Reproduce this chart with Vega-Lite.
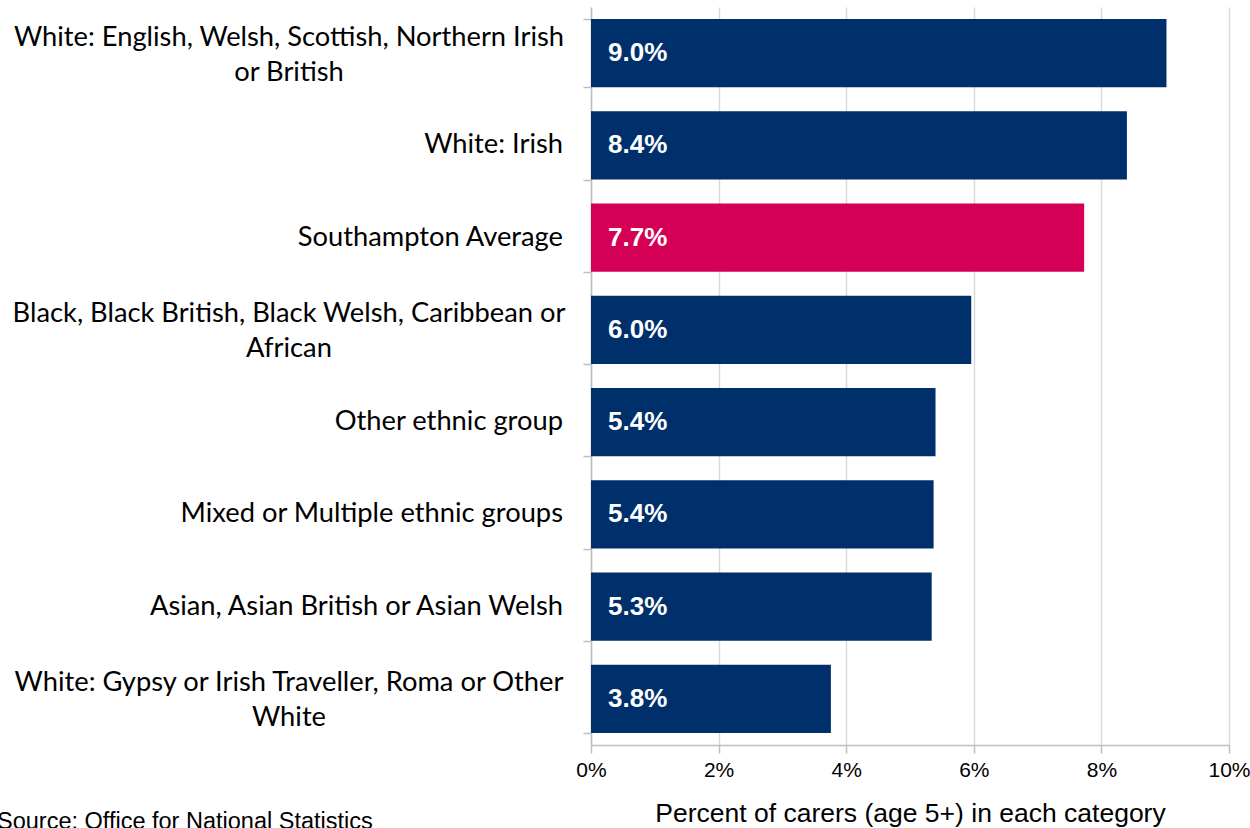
{
  "$schema": "https://vega.github.io/schema/vega-lite/v6.json",
  "autosize": {"type": "none"},
  "width": 638,
  "height": 738,
  "padding": {"left": 591, "top": 7, "right": 21, "bottom": 83},
  "background": "white",
  "config": {"view": {"stroke": null}},
  "title": {
    "text": "Source: Office for National Statistics",
    "orient": "bottom",
    "anchor": "start",
    "frame": "group",
    "dx": -594,
    "offset": -17,
    "baseline": "top",
    "font": "Liberation Sans",
    "fontSize": 23.5,
    "fontWeight": "normal",
    "color": "#000000"
  },
  "data": {
    "values": [
      {"group": "White: English, Welsh, Scottish, Northern Irish|or British", "value": 9.02, "label": "9.0%", "type": "group"},
      {"group": "White: Irish", "value": 8.40, "label": "8.4%", "type": "group"},
      {"group": "Southampton Average", "value": 7.73, "label": "7.7%", "type": "avg"},
      {"group": "Black, Black British, Black Welsh, Caribbean or|African", "value": 5.96, "label": "6.0%", "type": "group"},
      {"group": "Other ethnic group", "value": 5.40, "label": "5.4%", "type": "group"},
      {"group": "Mixed or Multiple ethnic groups", "value": 5.37, "label": "5.4%", "type": "group"},
      {"group": "Asian, Asian British or Asian Welsh", "value": 5.34, "label": "5.3%", "type": "group"},
      {"group": "White: Gypsy or Irish Traveller, Roma or Other|White", "value": 3.76, "label": "3.8%", "type": "group"}
    ]
  },
  "encoding": {
    "y": {
      "field": "group",
      "type": "nominal",
      "scale": {
        "domain": [
          "White: English, Welsh, Scottish, Northern Irish|or British",
          "White: Irish",
          "Southampton Average",
          "Black, Black British, Black Welsh, Caribbean or|African",
          "Other ethnic group",
          "Mixed or Multiple ethnic groups",
          "Asian, Asian British or Asian Welsh",
          "White: Gypsy or Irish Traveller, Roma or Other|White"
        ],
        "paddingInner": 0.26,
        "paddingOuter": 0.13
      },
      "axis": {
        "title": null,
        "labels": false,
        "tickBand": "extent",
        "tickSize": 8,
        "tickColor": "#bfbfbf",
        "tickWidth": 1.5,
        "domainColor": "#bfbfbf",
        "domainWidth": 1.5,
        "grid": false
      }
    }
  },
  "layer": [
    {
      "mark": {"type": "bar"},
      "encoding": {
        "x": {
          "field": "value",
          "type": "quantitative",
          "scale": {"domain": [0, 10], "nice": false},
          "axis": {
            "title": "Percent of carers (age 5+) in each category",
            "titleFont": "Liberation Sans",
            "titleFontSize": 26.5,
            "titleFontWeight": "normal",
            "titleColor": "#000000",
            "titlePadding": 20,
            "values": [0, 2, 4, 6, 8, 10],
            "labelExpr": "datum.value + '%'",
            "labelFlush": false,
            "labelFont": "Liberation Sans",
            "labelFontSize": 21,
            "labelColor": "#000000",
            "labelPadding": 6,
            "tickSize": 8,
            "tickColor": "#bfbfbf",
            "tickWidth": 1.5,
            "domainColor": "#bfbfbf",
            "domainWidth": 1.5,
            "grid": true,
            "gridColor": "#d9d9d9",
            "gridWidth": 1.5
          }
        },
        "color": {
          "field": "type",
          "type": "nominal",
          "scale": {"domain": ["group", "avg"], "range": ["#00306b", "#d50055"]},
          "legend": null
        }
      }
    },
    {
      "mark": {"type": "text", "align": "left", "baseline": "middle", "dx": 17, "font": "Liberation Sans", "fontSize": 26, "fontWeight": "bold", "color": "#ffffff"},
      "encoding": {
        "x": {"datum": 0, "type": "quantitative"},
        "text": {"field": "label"}
      }
    },
    {
      "transform": [{"filter": "indexof(datum.group, '|') < 0"}],
      "mark": {"type": "text", "align": "right", "baseline": "middle", "dx": -28, "font": "Lato", "fontSize": 27.3, "color": "#000000"},
      "encoding": {
        "x": {"datum": 0, "type": "quantitative"},
        "text": {"field": "group"}
      }
    },
    {
      "transform": [{"filter": "indexof(datum.group, '|') >= 0"}],
      "mark": {"type": "text", "align": "center", "baseline": "middle", "dx": -302, "dy": -15.5, "lineBreak": "|", "lineHeight": 35, "font": "Lato", "fontSize": 27.3, "color": "#000000"},
      "encoding": {
        "x": {"datum": 0, "type": "quantitative"},
        "text": {"field": "group"}
      }
    }
  ]
}
